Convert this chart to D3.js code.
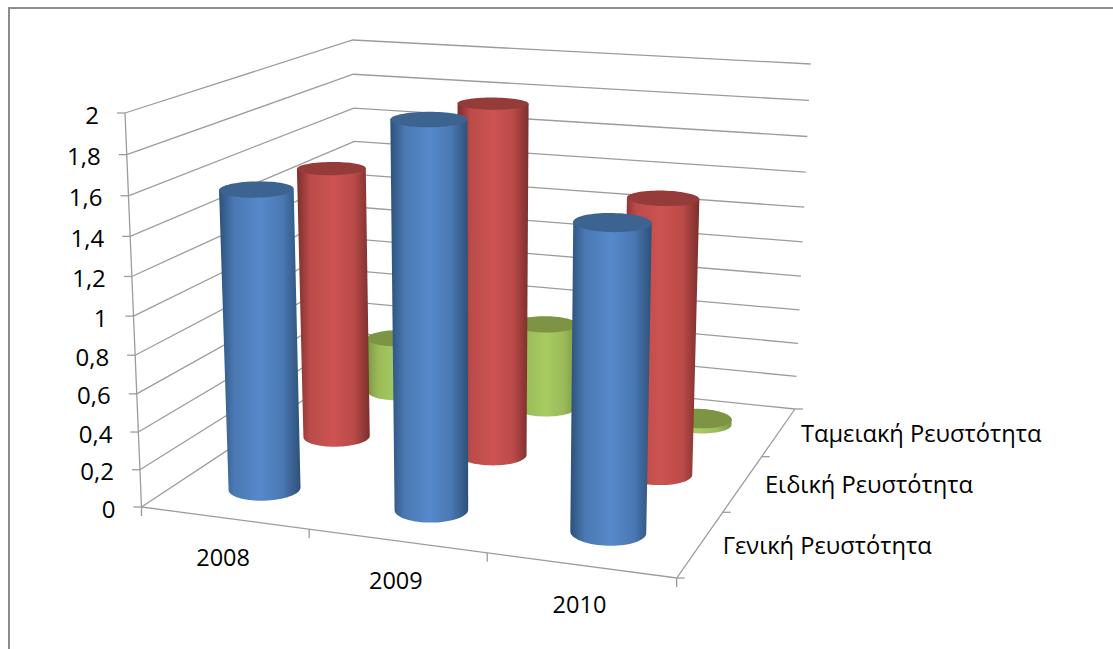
<!DOCTYPE html>
<html>
<head>
<meta charset="utf-8">
<script src="https://cdn.jsdelivr.net/npm/d3@7"></script>
<style>
  html, body { margin: 0; padding: 0; background: #fff; }
  svg { display: block; }
  text { font-family: "Open Sans", "Noto Sans", sans-serif; fill: #000; }
</style>
</head>
<body>
<script>
const years = ['2008', '2009', '2010'];
const seriesNames = ['Γενική Ρευστότητα', 'Ειδική Ρευστότητα', 'Ταμειακή Ρευστότητα'];
const general = [1.57, 1.98, 1.56];
const quick = [1.5, 1.9, 1.48];
const cash = [0.33, 0.5, 0.03];
const yTicks = [0, 0.2, 0.4, 0.6, 0.8, 1, 1.2, 1.4, 1.6, 1.8, 2];

const width = 1113;
const height = 649;

// box corners in screen space, order: front-left, front-right, back-right, back-left
const floorCorners = [[141.5, 507], [676.7, 578], [795, 409], [358, 364]];
const ceilCorners = [[125, 113], [685, 159], [810.7, 64], [352.7, 40]];

// unit square -> quad
function quadMap(p) {
	const [[x0, y0], [x1, y1], [x2, y2], [x3, y3]] = p;
	const dx1 = x1 - x2, dx2 = x3 - x2, sx = x0 - x1 + x2 - x3;
	const dy1 = y1 - y2, dy2 = y3 - y2, sy = y0 - y1 + y2 - y3;
	const den = dx1 * dy2 - dx2 * dy1;
	const g = (sx * dy2 - dx2 * sy) / den;
	const h = (dx1 * sy - sx * dy1) / den;
	const a = x1 - x0 + g * x1, b = x3 - x0 + h * x3;
	const d = y1 - y0 + g * y1, e = y3 - y0 + h * y3;
	return (u, v) => {
		const w = g * u + h * v + 1;
		return [(a * u + b * v + x0) / w, (d * u + e * v + y0) / w];
	};
}
const floorAt = quadMap(floorCorners);

// the rise from floor to ceiling blends between the four corners
const rises = floorCorners.map((p, i) => [ceilCorners[i][0] - p[0], ceilCorners[i][1] - p[1]]);
function riseAt(u, v) {
	return [0, 1].map(k => (1 - v) * ((1 - u) * rises[0][k] + u * rises[1][k])
		+ v * ((1 - u) * rises[3][k] + u * rises[2][k]));
}

const uScale = d3.scaleBand().domain(years).range([0, 1]);
const vScale = d3.scaleBand().domain(seriesNames).range([0, 1]);
const zScale = d3.scaleLinear().domain([0, 2]).range([0, 1]);

// spacing grows a bit toward the top
const persp = 0.94;
function project(u, v, value) {
	const t = zScale(value);
	const s = t * persp / (t * persp + (1 - t));
	const f = floorAt(u, v), r = riseAt(u, v);
	return [f[0] + r[0] * s, f[1] + r[1] * s];
}

const svg = d3.select('body').append('svg')
	.attr('width', width)
	.attr('height', height);

// chart area border, only top and left end up on the page
svg.append('path')
	.attr('d', `M9,${height}V8H${width}`)
	.attr('fill', 'none')
	.attr('stroke', '#8c8c8c')
	.attr('stroke-width', 2);

const defs = svg.append('defs');
const palette = [
	{ edge: '#2d5079', mid: '#4a78b2', light: '#5689cb', top: '#3d6390' },
	{ edge: '#7c2e2c', mid: '#bb4b49', light: '#cc5351', top: '#953b39' },
	{ edge: '#7b9645', mid: '#9abb58', light: '#a8cb62', top: '#7d9444' }
];
palette.forEach((c, i) => {
	const g = defs.append('linearGradient').attr('id', 'side' + i);
	[[0, c.edge], [0.18, c.mid], [0.5, c.light], [0.78, c.mid], [1, c.edge]].forEach(s => {
		g.append('stop').attr('offset', s[0]).attr('stop-color', s[1]);
	});
});

// walls
const gridColor = '#9c9c9c';
const frame = svg.append('g')
	.attr('fill', 'none')
	.attr('stroke', gridColor)
	.attr('stroke-width', 1.3);

const line = d3.line();
yTicks.forEach(t => {
	frame.append('path').attr('d', line([project(0, 0, t), project(0, 1, t), project(1, 1, t)]));
	const p = project(0, 0, t);
	frame.append('path').attr('d', line([[p[0] - 8, p[1]], p]));
});
frame.append('path').attr('d', line([project(0, 0, 0), project(0, 0, 2)]));
frame.append('path').attr('d', line([project(0, 0, 0), project(1, 0, 0), project(1, 1, 0)]));

// tick marks along the two floor edges
[0, 1 / 3, 2 / 3, 1].forEach(u => {
	const p = project(u, 0, 0);
	frame.append('path').attr('d', line([p, [p[0], p[1] + 9]]));
});
[0, 1 / 3, 2 / 3, 1].forEach(v => {
	const p = project(1, v, 0);
	frame.append('path').attr('d', line([p, [p[0] + 8, p[1]]]));
});

// cylinders, back row first
const radius = 0.0667;
const angles = d3.range(0, 72).map(i => i / 72 * 2 * Math.PI);
const rows = [general, quick, cash];

function ring(u, v, value) {
	return angles.map(a => project(u + radius * Math.cos(a), v + radius * Math.sin(a), value));
}

function drawCylinder(year, name, value, colorIndex) {
	const u = uScale(year) + uScale.bandwidth() / 2;
	const v = vScale(name) + vScale.bandwidth() / 2;
	const bottom = ring(u, v, 0);
	const top = ring(u, v, value);
	const iLeft = d3.minIndex(bottom, d => d[0]);
	const iRight = d3.maxIndex(bottom, d => d[0]);
	// front half of the base runs from left extreme to right extreme
	const front = [];
	for (let i = iLeft; ; i = (i + 1) % bottom.length) {
		front.push(bottom[i]);
		if (i === iRight) break;
	}
	const outline = [top[d3.minIndex(top, d => d[0])], ...front, top[d3.maxIndex(top, d => d[0])]];
	const g = svg.append('g');
	g.append('path')
		.attr('d', line(outline) + 'Z')
		.attr('fill', `url(#side${colorIndex})`);
	g.append('path')
		.attr('d', line(top) + 'Z')
		.attr('fill', palette[colorIndex].top);
}

d3.range(seriesNames.length - 1, -1, -1).forEach(s => {
	years.forEach((y, i) => drawCylinder(y, seriesNames[s], rows[s][i], s));
});

// value labels
svg.append('g').selectAll('text')
	.data(yTicks)
	.enter()
	.append('text')
	.attr('x', d => project(0, 0, d)[0] - 26)
	.attr('y', d => project(0, 0, d)[1] + 1)
	.attr('text-anchor', 'end')
	.attr('dominant-baseline', 'central')
	.attr('font-size', 24)
	.text(d => String(d).replace('.', ','));

svg.append('g').selectAll('text')
	.data(years)
	.enter()
	.append('text')
	.attr('x', d => project(uScale(d) + uScale.bandwidth() / 2, 0, 0)[0] - 1)
	.attr('y', d => project(uScale(d) + uScale.bandwidth() / 2, 0, 0)[1] + 39)
	.attr('text-anchor', 'middle')
	.attr('dominant-baseline', 'central')
	.attr('font-size', 23.5)
	.text(d => d);

svg.append('g').selectAll('text')
	.data(seriesNames)
	.enter()
	.append('text')
	.attr('x', d => project(1, vScale(d) + vScale.bandwidth() / 2, 0)[0] + 22)
	.attr('y', d => project(1, vScale(d) + vScale.bandwidth() / 2, 0)[1] + 1)
	.attr('dominant-baseline', 'central')
	.attr('font-size', 23.7)
	.text(d => d);
</script>
</body>
</html>
